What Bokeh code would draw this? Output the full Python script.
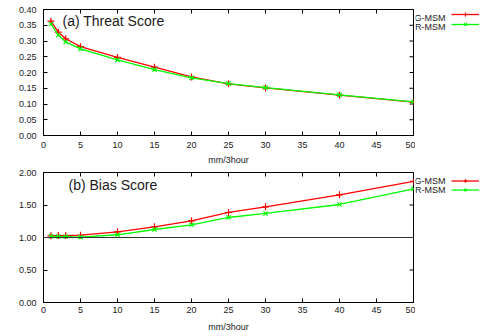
import math
from bokeh.plotting import figure
from bokeh.layouts import column, row
from bokeh.models import (Range1d, FixedTicker, Label, Legend,
                          LegendItem, Span, NumeralTickFormatter)
from bokeh.core.properties import value
from bokeh.embed import file_html
from bokeh.resources import INLINE

thresholds = [1, 2, 3, 5, 10, 15, 20, 25, 30, 40, 50]
ts_gmsm = [0.363, 0.328, 0.307, 0.282, 0.248, 0.217, 0.186, 0.164, 0.151, 0.128, 0.106]
ts_rmsm = [0.354, 0.319, 0.297, 0.275, 0.240, 0.209, 0.183, 0.165, 0.152, 0.129, 0.107]
bs_gmsm = [1.026, 1.030, 1.030, 1.035, 1.088, 1.165, 1.257, 1.385, 1.472, 1.657, 1.862]
bs_rmsm = [1.020, 1.015, 1.015, 1.006, 1.042, 1.123, 1.195, 1.308, 1.370, 1.508, 1.749]
series_names = ["G-MSM", "R-MSM"]
x_ticks = [0, 5, 10, 15, 20, 25, 30, 35, 40, 45, 50]
ts_ticks = [0.0, 0.05, 0.10, 0.15, 0.20, 0.25, 0.30, 0.35, 0.40]
bs_ticks = [0.0, 0.5, 1.0, 1.5, 2.0]
x_label = "mm/3hour"

FONT = "Liberation Sans"
RED = "#ff0000"
GREEN = "#00ff00"
TXT = "#1a1a1a"
MAIN_W = 415
LEG_W = 489 - MAIN_W
NAN = float("nan")


def style_axis(ax, standoff):
    ax.major_tick_in = 4
    ax.major_tick_out = 0
    ax.minor_tick_line_color = None
    ax.axis_line_color = "black"
    ax.axis_line_width = 1
    ax.major_tick_line_color = "black"
    ax.major_label_text_font = FONT
    ax.major_label_text_color = TXT
    ax.major_label_text_font_size = "9px"
    ax.major_label_standoff = standoff


STY = {
    0: dict(line=dict(line_color=RED, line_width=1.3),
            mark=dict(marker="cross", size=7, line_color=RED, line_width=1.2)),
    1: dict(line=dict(line_color=GREEN, line_width=1.3),
            mark=dict(marker="x", size=6, line_color=GREEN, line_width=1.2)),
}


def make_panel(title, series, yticks, ymax, height, btop, bbot,
               title_xy, legend_vy, row_h, legtext_y, xstand, lstand):
    yr = Range1d(0, ymax)
    p = figure(width=MAIN_W, height=height, x_range=Range1d(0, 50),
               y_range=yr, output_backend="svg",
               toolbar_location=None, min_border_left=43, min_border_right=2,
               min_border_top=btop, min_border_bottom=bbot)
    p.grid.visible = False
    p.outline_line_color = "black"
    p.outline_line_width = 1
    p.background_fill_color = "white"
    p.border_fill_color = "white"

    p.xaxis.ticker = FixedTicker(ticks=x_ticks)
    p.yaxis.ticker = FixedTicker(ticks=yticks)
    p.yaxis.formatter = NumeralTickFormatter(format="0.00")
    style_axis(p.xaxis[0], xstand)
    style_axis(p.yaxis[0], 7)
    p.xaxis.axis_label = x_label
    p.xaxis.axis_label_text_font = FONT
    p.xaxis.axis_label_text_font_size = "9px"
    p.xaxis.axis_label_text_font_style = "normal"
    p.xaxis.axis_label_text_color = TXT
    p.xaxis.axis_label_standoff = lstand

    # mirrored inward ticks on the top and right edges (outer half is clipped)
    p.scatter(x_ticks, [ymax] * len(x_ticks), marker="dash", angle=math.pi / 2,
              size=8, line_color="black", line_width=1)
    p.scatter([x_ticks[-1]] * len(yticks), yticks, marker="dash", size=8,
              line_color="black", line_width=1)

    for i, ys in enumerate(series):
        p.line(thresholds, ys, **STY[i]["line"])
        p.scatter(thresholds, ys, **STY[i]["mark"])

    p.add_layout(Label(x=title_xy[0], y=title_xy[1], text=title,
                       text_font=FONT, text_font_size="14px",
                       text_color=TXT, text_baseline="middle"))

    # key to the right of the frame (gnuplot style: text, then sample)
    q = figure(width=LEG_W, height=height, x_range=Range1d(0, LEG_W),
               y_range=yr, output_backend="svg", toolbar_location=None,
               x_axis_type=None, y_axis_type=None, min_border_left=0,
               min_border_right=0, min_border_top=btop, min_border_bottom=bbot)
    q.grid.visible = False
    q.outline_line_color = None
    q.background_fill_color = "white"
    q.border_fill_color = "white"
    items = []
    for i, name in enumerate(series_names):
        rl = q.line([NAN], [NAN], **STY[i]["line"])
        rm = q.scatter([NAN], [NAN], **STY[i]["mark"])
        items.append(LegendItem(label=value(" "), renderers=[rl, rm]))
        q.add_layout(Label(x=30, y=legtext_y[i], text=name, text_font=FONT,
                           text_font_size="9px", text_color=TXT,
                           text_align="right", text_baseline="middle"))
    leg = Legend(items=items, location=(36, legend_vy), glyph_width=28,
                 glyph_height=row_h, label_height=row_h, label_width=0,
                 label_standoff=0, spacing=0, padding=0, margin=0,
                 label_text_font_size="9px",
                 border_line_color=None, background_fill_alpha=0)
    q.add_layout(leg)
    return p, q


p1, q1 = make_panel("(a) Threat Score", [ts_gmsm, ts_rmsm], ts_ticks, 0.40,
                    167, 9, 29, (2.57, 0.364), 105.7, 10, (0.374, 0.343), 6, 4)
p2, q2 = make_panel("(b) Bias Score", [bs_gmsm, bs_rmsm], bs_ticks, 2.0,
                    169, 5, 34, (3.38, 1.811), 107.8, 9, (1.866, 1.728), 4, 6)
p2.add_layout(Span(location=1.0, dimension="width", line_color="#333333", line_width=1))

layout = column(row(p1, q1, spacing=0), row(p2, q2, spacing=0), spacing=0)
open("out.html", "w").write(file_html(layout, INLINE))
